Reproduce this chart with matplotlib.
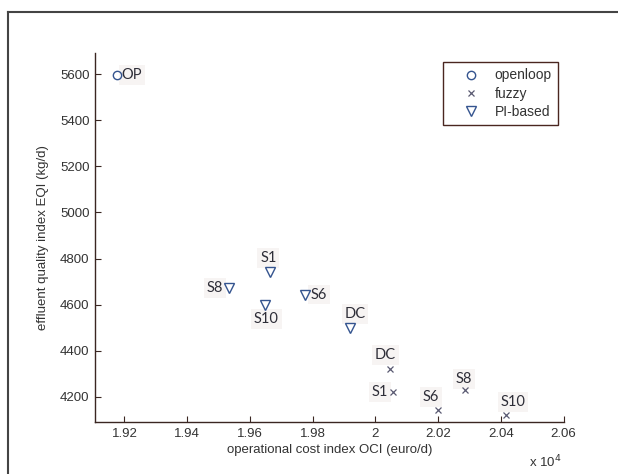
import numpy as np
import matplotlib
matplotlib.use('Agg')
from matplotlib import pyplot as plt
from matplotlib.lines import Line2D

# Data (OCI in euro/d, EQI in kg/d)
# -------------------------------------------
open_labels = ['OP']
open_oci = [19175]
open_eqi = [5597]

fuzzy_labels = ['DC', 'S1', 'S6', 'S8', 'S10']
fuzzy_oci = [20047, 20057, 20200, 20285, 20416]
fuzzy_eqi = [4320, 4222, 4144, 4229, 4121]

pi_labels = ['S1', 'S8', 'S10', 'S6', 'DC']
pi_oci = [19665, 19533, 19649, 19774, 19919]
pi_eqi = [4741, 4674, 4599, 4644, 4500]

xticks = [1.92, 1.94, 1.96, 1.98, 2.00, 2.02, 2.04, 2.06]
xticklabels = ['1.92', '1.94', '1.96', '1.98', '2', '2.02', '2.04', '2.06']
yticks = [4200, 4400, 4600, 4800, 5000, 5200, 5400, 5600]

# label placement: (dx, dy) in pixels, horizontal alignment
open_pos = [(5, 0, 'left')]
fuzzy_pos = [(-5, 14, 'center'), (-5, 0, 'right'), (-7, 13, 'center'),
             (-1, 11, 'center'), (7, 13, 'center')]
pi_pos = [(-2, 14, 'center'), (-6, 0, 'right'), (1, -14, 'center'),
          (6, 0, 'left'), (5, 14, 'center')]

text_col = '#333333'
axis_col = '#3a2622'
blue = '#34548f'
plt.rcParams['font.family'] = ['Liberation Sans', 'DejaVu Sans']

fig = plt.figure(figsize=(6.18, 4.74), dpi=100)
ax = fig.add_axes([95/618, 1 - 422.3/474, (563.6-95)/618, (422.3-53.3)/474])

# Scatter points
# -------------------------------------------
ax.plot(np.array(open_oci)/1e4, open_eqi, 'o', ms=6, mfc='none', mec=blue, mew=1.0,
        linestyle='none', label='openloop', zorder=5)
ax.plot(np.array(fuzzy_oci)/1e4, fuzzy_eqi, 'x', ms=4, color='#5a5a72', mew=0.9,
        linestyle='none', label='fuzzy', zorder=5)
ax.plot(np.array(pi_oci)/1e4, pi_eqi, 'v', ms=7, mfc='none', mec=blue, mew=1.0,
        linestyle='none', label='PI-based', zorder=5)

# Point labels
# -------------------------------------------
def put_labels(labels, xs, ys, pos):
    for lab, x, y, (dx, dy, ha) in zip(labels, xs, ys, pos):
        ax.annotate(lab, (x/1e4, y), xytext=(dx, dy), textcoords='offset pixels',
                    ha=ha, va='center', fontsize=10.5, color='#2e2e38',
                    family=['Lato', 'DejaVu Sans'], zorder=3,
                    bbox=dict(boxstyle='square,pad=0.2', fc='#f7f4f3', ec='none'))

put_labels(open_labels, open_oci, open_eqi, open_pos)
put_labels(fuzzy_labels, fuzzy_oci, fuzzy_eqi, fuzzy_pos)
put_labels(pi_labels, pi_oci, pi_eqi, pi_pos)

# Axes styling (matlab look)
# -------------------------------------------
ax.set_xlim(1.9106, 2.06)
ax.set_ylim(4090, 5690)
ax.set_xticks(xticks)
ax.set_xticklabels(xticklabels)
ax.set_yticks(yticks)
ax.spines['top'].set_visible(False)
ax.spines['right'].set_visible(False)
for s in ['left', 'bottom']:
    ax.spines[s].set_color(axis_col)
    ax.spines[s].set_linewidth(1.0)
ax.tick_params(direction='in', length=4, width=0.8, color=axis_col,
               labelsize=9.5, labelcolor=text_col, pad=4)

ax.set_xlabel('operational cost index OCI (euro/d)', fontsize=9.5, color=text_col, labelpad=3)
ax.set_ylabel('effluent quality index EQI (kg/d)', fontsize=9.5, color=text_col, labelpad=8)
fig.text(545/618, 1 - 462/474, 'x 10$^4$', fontsize=9.5, color=text_col, ha='center', va='center')

leg = ax.legend(loc='upper right', bbox_to_anchor=(0.988, 0.976), borderaxespad=0,
                fontsize=10, handlelength=3.2, handletextpad=0.1, borderpad=0.45,
                labelspacing=0.3, fancybox=False, framealpha=1)
leg.get_frame().set_edgecolor('#4a2620')
leg.get_frame().set_linewidth(1.0)
for t in leg.get_texts():
    t.set_color(text_col)

# Figure border
# -------------------------------------------
fig.add_artist(Line2D([8/618, 8/618], [0, 1 - 11.5/474], color='#444444', lw=1.5))
fig.add_artist(Line2D([8/618, 1], [1 - 11.5/474, 1 - 11.5/474], color='#444444', lw=1.5))

fig.savefig('out.png', dpi=100)
